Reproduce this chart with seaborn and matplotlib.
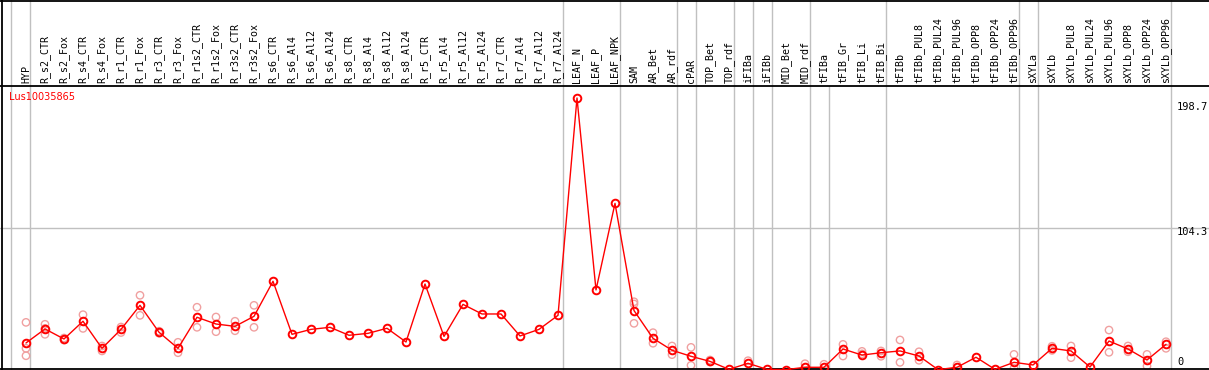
import numpy as np
import pandas as pd
import matplotlib
matplotlib.use("Agg")
import matplotlib.pyplot as plt
import matplotlib.transforms as mtransforms
from matplotlib.lines import Line2D
import seaborn as sns

title = "Lus10035865"
categories = ["HYP", "R_s2_CTR", "R_s2_Fox", "R_s4_CTR", "R_s4_Fox", "R_r1_CTR", "R_r1_Fox",
              "R_r3_CTR", "R_r3_Fox", "R_r1s2_CTR", "R_r1s2_Fox", "R_r3s2_CTR", "R_r3s2_Fox",
              "R_s6_CTR", "R_s6_Al4", "R_s6_Al12", "R_s6_Al24", "R_s8_CTR", "R_s8_Al4",
              "R_s8_Al12", "R_s8_Al24", "R_r5_CTR", "R_r5_Al4", "R_r5_Al12", "R_r5_Al24",
              "R_r7_CTR", "R_r7_Al4", "R_r7_Al12", "R_r7_Al24", "LEAF_N", "LEAF_P", "LEAF_NPK",
              "SAM", "AR_Bet", "AR_rdf", "cPAR", "TOP_Bet", "TOP_rdf", "iFIBa", "iFIBb",
              "MID_Bet", "MID_rdf", "tFIBa", "tFIB_Gr", "tFIB_Li", "tFIB_Bi", "tFIBb",
              "tFIBb_PUL8", "tFIBb_PUL24", "tFIBb_PUL96", "tFIBb_OPP8", "tFIBb_OPP24",
              "tFIBb_OPP96", "sXYLa", "sXYLb", "sXYLb_PUL8", "sXYLb_PUL24", "sXYLb_PUL96",
              "sXYLb_OPP8", "sXYLb_OPP24", "sXYLb_OPP96"]

means = [20.4, 30.6, 23.3, 36.2, 16.5, 30.3, 47.8, 28.2, 16.5, 39.1, 34.2, 32.5, 39.8,
         65.3, 26.7, 30.3, 31.8, 26.0, 27.4, 31.1, 21.1, 63.3, 25.2, 48.5, 41.5, 41.5,
         25.5, 30.3, 40.5,
         198.7, 59.0, 122.0,
         44.0, 23.8, 15.1, 10.7, 7.0, 1.2, 5.6, 1.2, 1.0, 2.7, 2.7,
         16.0, 11.6, 13.3, 14.6, 10.9, 1.0, 2.7, 10.0, 1.2, 6.3,
         4.4, 16.5, 14.6, 2.9, 21.8, 16.0, 8.0, 19.4]

rep_cats = ["HYP", "HYP", "HYP", "R_s2_CTR", "R_s2_CTR", "R_s2_CTR", "R_s2_Fox", "R_s2_Fox",
            "R_s4_CTR", "R_s4_CTR", "R_s4_Fox", "R_s4_Fox", "R_r1_CTR", "R_r1_CTR",
            "R_r1_Fox", "R_r1_Fox", "R_r3_CTR", "R_r3_CTR", "R_r3_Fox", "R_r3_Fox",
            "R_r1s2_CTR", "R_r1s2_CTR", "R_r1s2_Fox", "R_r1s2_Fox", "R_r3s2_CTR", "R_r3s2_CTR",
            "R_r3s2_Fox", "R_r3s2_Fox", "SAM", "SAM", "SAM", "AR_Bet", "AR_Bet",
            "AR_rdf", "AR_rdf", "cPAR", "cPAR", "TOP_Bet", "TOP_Bet", "iFIBa", "MID_rdf",
            "tFIBa", "tFIB_Gr", "tFIB_Gr", "tFIB_Li", "tFIB_Li", "tFIB_Bi", "tFIB_Bi",
            "tFIBb", "tFIBb", "tFIBb_PUL8", "tFIBb_PUL8", "tFIBb_PUL96", "tFIBb_OPP96",
            "tFIBb_OPP96", "sXYLb", "sXYLb", "sXYLb_PUL8", "sXYLb_PUL8", "sXYLb_PUL96",
            "sXYLb_PUL96", "sXYLb_OPP8", "sXYLb_OPP8", "sXYLb_OPP24", "sXYLb_OPP24",
            "sXYLb_OPP96", "sXYLb_OPP96"]
rep_vals = [35.4, 16.5, 11.1, 34.0, 26.7, 31.0, 24.0, 22.5,
            41.0, 31.0, 18.2, 14.6, 32.0, 28.0,
            55.1, 40.5, 29.0, 27.5, 20.9, 13.3,
            46.4, 31.8, 39.3, 28.6, 36.2, 29.3,
            47.8, 31.8, 50.4, 48.8, 34.7, 27.9, 20.2,
            18.2, 11.9, 17.2, 4.1, 8.0, 6.5, 7.5, 5.3,
            4.9, 19.4, 10.9, 14.3, 12.5, 14.6, 10.7,
            22.6, 6.3, 14.0, 7.8, 4.4, 12.1,
            2.0, 18.0, 15.0, 18.2, 9.7, 29.8,
            13.6, 18.2, 14.0, 12.1, 3.6,
            21.3, 16.5]

group_breaks = [-0.8, 0.2, 28.25, 31.25, 34.25, 35.25, 37.25, 38.25, 39.25, 41.25,
                45.25, 52.25, 53.25, 60.25]
plot_only_breaks = [42.25]
y_marks = [198.7, 104.3]
y_labels = ["198.7", "104.3", "0"]

W, H = 1209, 370
sns.set_style("white")
plt.rcParams["font.family"] = ["DejaVu Sans"]
fig = plt.figure(figsize=(W / 100, H / 100), dpi=100)

ax_bottom_px = 369.0
ax_top_px = 85.5
ax = fig.add_axes([0.0, 1 - ax_bottom_px / H, 1.0, (ax_bottom_px - ax_top_px) / H])

# pixel mapping: x_px = 26 + 19*i ; y_px = 371 - 1.374*v
x0, dx = 26.0, 19.0
ax.set_xlim(-x0 / dx, (W - x0) / dx)
y0, sy = 371.0, 1.374
ax.set_ylim((y0 - ax_bottom_px) / sy, (y0 - ax_top_px) / sy)

idx = {c: i for i, c in enumerate(categories)}
df_mean = pd.DataFrame({"x": np.arange(len(categories)), "v": means})
df_rep = pd.DataFrame({"x": [idx[c] for c in rep_cats], "v": rep_vals})

# grid line
ax.axhline(y_marks[1], color="#c0c0c0", lw=1, zorder=0)

# vertical group separators
header_frac = 1 + (ax_top_px - 0) / (ax_bottom_px - ax_top_px)
trans = mtransforms.blended_transform_factory(ax.transData, ax.transAxes)
for b in group_breaks:
    ax.plot([b, b], [0, header_frac], color="#c0c0c0", lw=1, transform=trans,
            clip_on=False, zorder=0)
for b in plot_only_breaks:
    ax.plot([b, b], [0, 1], color="#c0c0c0", lw=1, transform=trans, clip_on=False, zorder=0)

sns.scatterplot(data=df_rep, x="x", y="v", ax=ax, marker="o", s=28,
                edgecolor="#f0a0a0", linewidth=1.0, zorder=2, clip_on=False, legend=False)
ax.collections[-1].set_facecolor("none")

sns.lineplot(data=df_mean, x="x", y="v", ax=ax, color="red", linewidth=1.0,
             marker="o", markersize=5.5, markerfacecolor="none", markeredgecolor="red",
             markeredgewidth=1.4, estimator=None, sort=False, zorder=3, clip_on=False,
             legend=False)

ax.set_xlabel("")
ax.set_ylabel("")
ax.set_xticks([])
ax.set_yticks([])
ax.spines["right"].set_visible(False)
for s in ["top", "bottom"]:
    ax.spines[s].set_color("black")
    ax.spines[s].set_linewidth(1.3)
ax.spines["left"].set_visible(False)

# header labels
for i, c in enumerate(categories):
    ax.text(i, 1 + 2.5 / (ax_bottom_px - ax_top_px), c, transform=trans, rotation=90,
            ha="center", va="bottom", fontsize=7.2, family="DejaVu Sans Mono",
            color="black", clip_on=False)

# y value labels on right
lx = (1177 - x0) / dx
ax.text(lx, (y0 - 107) / sy, y_labels[0], ha="left", va="center", fontsize=7.5,
        family="DejaVu Sans Mono", color="black")
ax.text(lx, (y0 - 232) / sy, y_labels[1], ha="left", va="center", fontsize=7.5,
        family="DejaVu Sans Mono", color="black")
ax.text(lx, (y0 - 362) / sy, y_labels[2], ha="left", va="center", fontsize=7.5,
        family="DejaVu Sans Mono", color="black")

# title
fig.text(9 / W, 1 - 92 / H, title, ha="left", va="top", fontsize=7, color="red")

# frame lines: top edge and left edge
fig.add_artist(Line2D([0, 1], [1 - 0.7 / H, 1 - 0.7 / H], color="black", lw=1.3,
                      transform=fig.transFigure))
fig.add_artist(Line2D([1.5 / W, 1.5 / W], [0, 1], color="black", lw=1.3,
                      transform=fig.transFigure))

fig.savefig("out.png", dpi=100)
